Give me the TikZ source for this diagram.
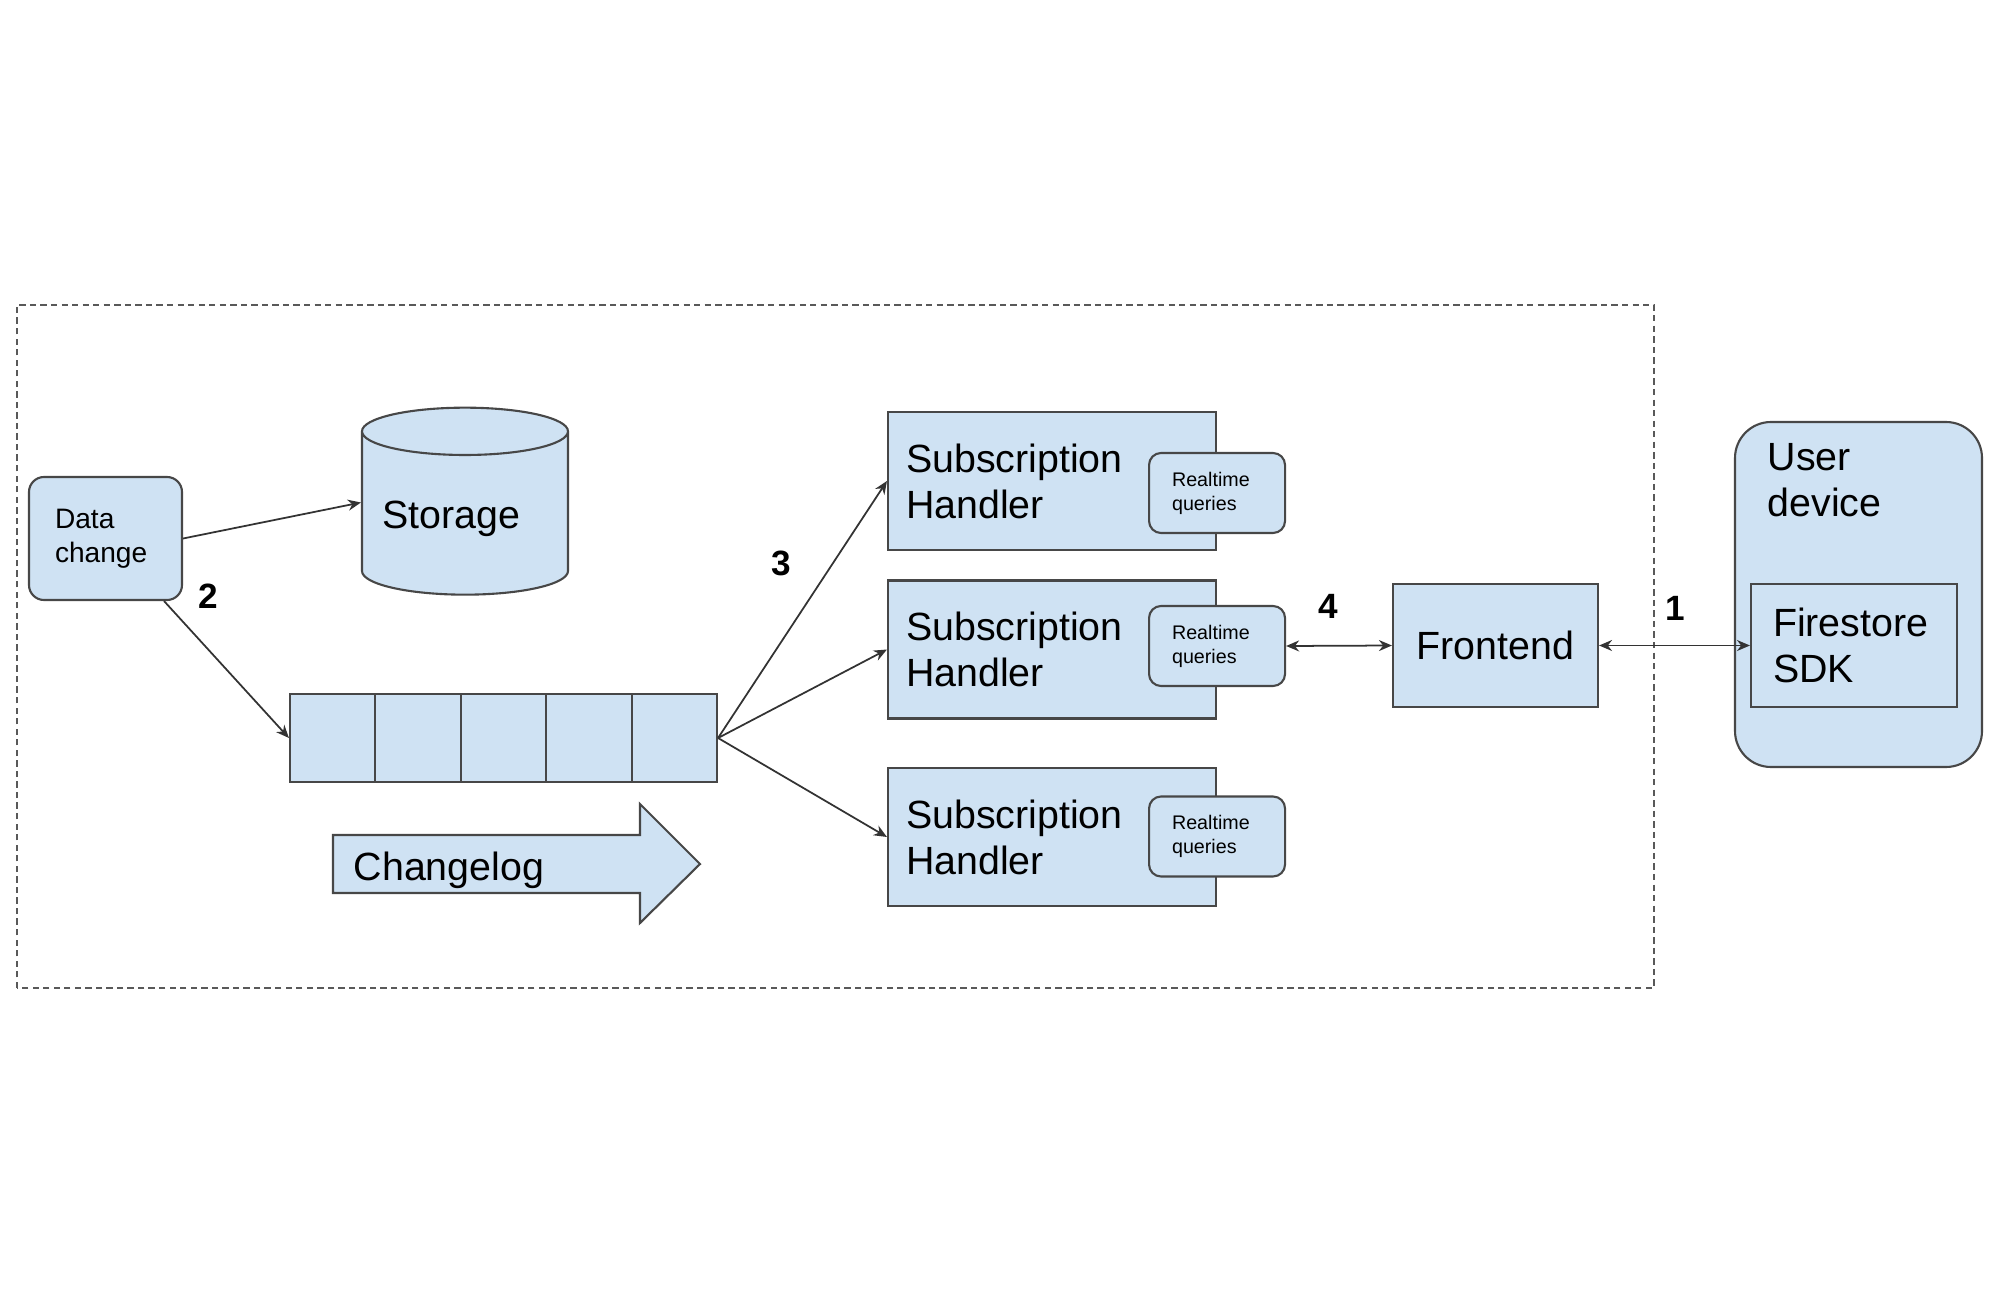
\documentclass[tikz,border=0pt]{standalone}
\usepackage{fontspec}
\setmainfont{Liberation Sans}
\usetikzlibrary{arrows.meta,shapes.geometric}
\definecolor{boxfill}{HTML}{CFE2F3}
\definecolor{boxline}{HTML}{474747}
\begin{document}
\begin{tikzpicture}[
  >={Stealth[length=1.3mm,width=1.1mm]},
  every node/.style={font=\fontsize{11.2}{13.1}\selectfont},
  box/.style={draw=boxline,fill=boxfill,line width=0.6pt},
  handler/.style={box,minimum height=1.38cm,text width=2.92cm,inner xsep=0.18cm,align=left},
  rtbox/.style={box,rounded corners=0.12cm,minimum height=0.8cm,text width=0.9cm,inner xsep=0.23cm,align=left,font=\fontsize{5.6}{6.8}\selectfont},
  cell/.style={box,minimum width=0.854cm,minimum height=0.88cm},
  num/.style={font=\fontsize{10}{12}\selectfont\bfseries},
  link/.style={draw=black!80,line width=0.5pt}
]
\useasboundingbox (0,0) rectangle (20,12.95);
\draw[gray!70!black,line width=0.6pt,dash pattern=on 1.8pt off 1.2pt] (0.17,3.07) rectangle (16.54,9.90);
\node[box,rounded corners=0.15cm,minimum height=1.23cm,text width=1.01cm,inner xsep=0.26cm,align=left,font=\fontsize{8}{9.7}\selectfont] (dc) at (1.055,7.565) {Data\\change};
\node[box,cylinder,shape border rotate=90,aspect=0.25,minimum width=2.06cm,minimum height=1.87cm] (st) at (4.65,7.76) {Storage\kern0.28cm};
\foreach \i in {1,...,5}
  \node[cell] (q\i) at ({2.90+0.854*(\i-0.5)},5.57) {};
\draw[box] (3.33,4.60) -- (6.40,4.60) -- (6.40,4.91) -- (7.00,4.31) -- (6.40,3.72) -- (6.40,4.02) -- (3.33,4.02) -- cycle;
\node[anchor=west,inner sep=0pt] (cl) at (3.53,4.25) {Changelog};
\foreach \i/\y/\d in {1/8.14/-0.12,2/6.455/0.035,3/4.58/0.005} {
  \node[handler] (h\i) at (10.52,\y) {Subscription\\Handler};
  \node[rtbox] (rt\i) at ([yshift=\d cm]h\i.east) {Realtime\\queries};
}
\node[box,minimum width=2.05cm,minimum height=1.23cm] (fe) at (14.955,6.495) {Frontend};
\node[box,rounded corners=0.36cm,minimum width=2.47cm,minimum height=3.45cm] (dev) at (18.585,7.005) {};
\node[anchor=west,inner sep=0pt,align=left] (udl) at (17.67,8.15) {User\\device};
\node[box,minimum height=1.23cm,text width=1.62cm,inner xsep=0.22cm,align=left] (sdk) at (18.54,6.495) {Firestore\\SDK};
\draw[->,link] (dc.east) -- ([yshift=0.165cm]st.west);
\draw[->,link] ([xshift=-0.19cm]dc.south east) -- (q1.west);
\foreach \i in {1,2,3}
  \draw[->,link] (q5.east) -- (h\i.west);
\draw[<->,link] (rt2.east) -- (fe.west);
\draw[<->,link] (fe.east) -- (sdk.west);
\node[num] (n1) at (16.75,6.87) {1};
\node[num] (n2) at (2.08,6.99) {2};
\node[num] (n3) at (7.81,7.32) {3};
\node[num] (n4) at (13.28,6.89) {4};
\end{tikzpicture}
\end{document}
